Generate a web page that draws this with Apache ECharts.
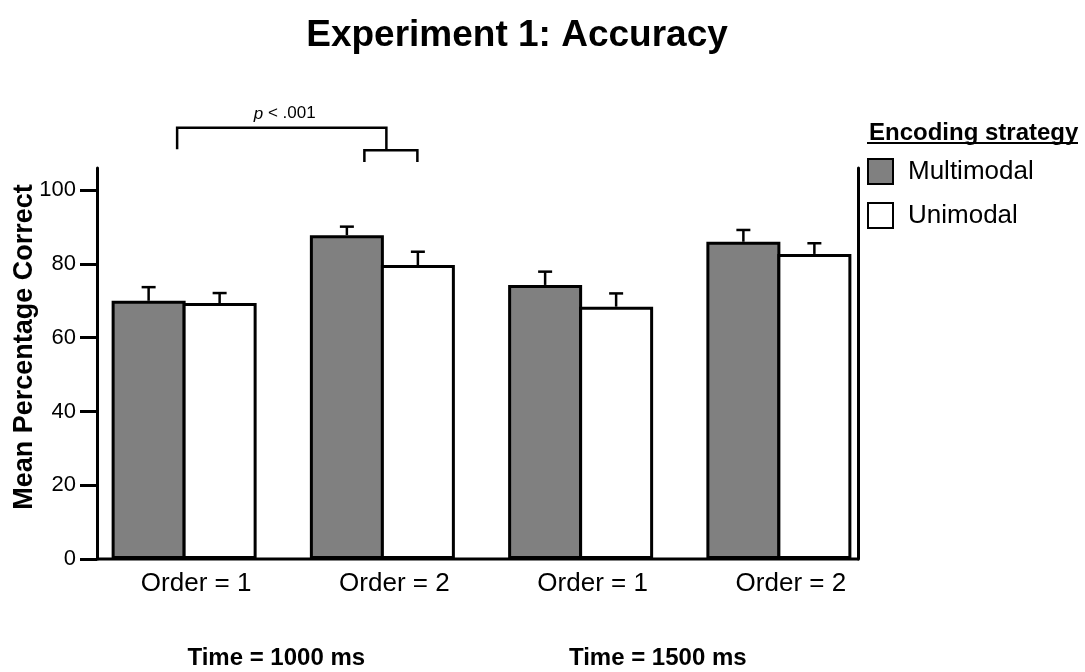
<!DOCTYPE html>
<html>
<head>
<meta charset="utf-8">
<title>Experiment 1: Accuracy</title>
<script src="https://cdn.jsdelivr.net/npm/echarts@6/dist/echarts.min.js"></script>
<style>html,body{margin:0;padding:0;background:#fff;}</style>
</head>
<body>
<div id="main" style="width:1085px;height:672px;"></div>
<script type="text/javascript">
// data
var categories = ['Order = 1', 'Order = 2', 'Order = 1', 'Order = 2'];
var timeLabels = ['Time = 1000 ms', 'Time = 1500 ms'];
var multimodal = [70.0, 87.8, 74.3, 86.0];
var multimodalTop = [73.7, 90.1, 77.9, 89.2];   // mean + error
var unimodal = [69.4, 79.7, 68.4, 82.7];
var unimodalTop = [72.1, 83.3, 72.0, 85.6];
var yTicks = [0, 20, 40, 60, 80, 100];

var FONT = 'Liberation Sans, Arial, Helvetica, sans-serif';
var BAR_W = 74;
var BAR_OVERLAP = 3;               // neighbouring bars share one border
var GRID_L = 85, GRID_R = 878;   // category band layout
var AXIS_L = 97, AXIS_R = 858;   // where the drawn axis lines sit

var chart = echarts.init(document.getElementById('main'));

function errorSeries(name, means, tops, shift) {
    return {
        name: name + ' error',
        type: 'custom',
        z: 5,
        encode: { x: 0, y: [1, 2] },
        data: means.map(function (m, i) { return [i, m, tops[i]]; }),
        renderItem: function (params, api) {
            var base = api.coord([api.value(0), api.value(1)]);
            var top = api.coord([api.value(0), api.value(2)]);
            var x = base[0] + shift;
            var st = { stroke: '#000', lineWidth: 2.5 };
            return {
                type: 'group',
                children: [
                    { type: 'line', shape: { x1: x, y1: base[1], x2: x, y2: top[1] }, style: st },
                    { type: 'line', shape: { x1: x - 7, y1: top[1], x2: x + 7, y2: top[1] }, style: st }
                ]
            };
        }
    };
}

var half = (BAR_W - BAR_OVERLAP) / 2;

var option = {
    animation: false,
    backgroundColor: '#fff',
    textStyle: { fontFamily: FONT, color: '#000' },
    title: [{
        text: 'Experiment 1: Accuracy',
        left: 512,
        textAlign: 'center',
        top: 12,
        textStyle: { fontFamily: FONT, fontSize: 37, fontWeight: 'bold', color: '#000' }
    }, {
        text: 'Encoding strategy',
        left: 864,
        top: 116,
        textStyle: { fontFamily: FONT, fontSize: 24, fontWeight: 'bold', color: '#000' }
    }],
    legend: {
        orient: 'vertical',
        left: 867,
        top: 158,
        padding: 0,
        itemWidth: 25,
        itemHeight: 25,
        itemGap: 17,
        icon: 'rect',
        data: ['Multimodal', 'Unimodal'],
        textStyle: { fontFamily: FONT, fontSize: 26, color: '#000', padding: [0, 0, 0, 10] }
    },
    grid: {
        left: GRID_L,
        right: 1085 - GRID_R,
        top: 168,
        bottom: 113,
        outerBoundsMode: 'none'
    },
    xAxis: {
        type: 'category',
        data: categories,
        axisLine: { show: false },
        axisTick: { show: false },
        axisLabel: {
            fontFamily: FONT, fontSize: 26, color: '#000',
            margin: 12, padding: [0, 0, 0, 24]
        }
    },
    yAxis: [{
        type: 'value',
        min: 0,
        max: 106,
        offset: GRID_L - AXIS_L,
        splitLine: { show: false },
        axisLine: { show: true, lineStyle: { color: '#000', width: 3 } },
        axisTick: { show: true, length: 17, customValues: yTicks, lineStyle: { color: '#000', width: 3 } },
        axisLabel: { fontFamily: FONT, fontSize: 22, color: '#000', margin: 21, customValues: yTicks }
    }, {
        type: 'value',
        position: 'right',
        min: 0,
        max: 106,
        offset: AXIS_R - GRID_R,
        splitLine: { show: false },
        axisLine: { show: true, lineStyle: { color: '#000', width: 3 } },
        axisTick: { show: false },
        axisLabel: { show: false }
    }],
    series: [{
        name: 'Multimodal',
        type: 'bar',
        barWidth: BAR_W,
        barGap: (-BAR_OVERLAP / BAR_W * 100) + '%',
        data: multimodal,
        itemStyle: { color: '#808080', borderColor: '#000', borderWidth: 3 }
    }, {
        name: 'Unimodal',
        type: 'bar',
        barWidth: BAR_W,
        barGap: (-BAR_OVERLAP / BAR_W * 100) + '%',
        data: unimodal,
        itemStyle: { color: '#fff', borderColor: '#000', borderWidth: 3 }
    },
        errorSeries('Multimodal', multimodal, multimodalTop, -half),
        errorSeries('Unimodal', unimodal, unimodalTop, half)
    ]
};
chart.setOption(option);

// annotations placed with the chart's own scales
function px(i, v) { return chart.convertToPixel({ xAxisIndex: 0, yAxisIndex: 0 }, [i, v]); }
var y0 = px(0, 0)[1];
var c0 = px(0, 0)[0], c1 = px(1, 0)[0], c2 = px(2, 0)[0], c3 = px(3, 0)[0];
var yTop = px(0, 116.9)[1], yLeg = px(0, 111.1)[1], ySmall = px(0, 110.8)[1], ySmallLeg = px(0, 107.6)[1];
var bx1 = c0 - 7, bx2 = c1 + 4, sL = c1 - 18, sR = c1 + 35;
var ln = { stroke: '#000', lineWidth: 2.5, fill: null };

chart.setOption({
    graphic: [
        { type: 'line', shape: { x1: AXIS_L - 1, y1: y0, x2: AXIS_R + 1, y2: y0 }, style: { stroke: '#000', lineWidth: 3 } },
        { type: 'polyline', shape: { points: [[bx1, yLeg], [bx1, yTop], [bx2, yTop], [bx2, ySmall]] }, style: ln },
        { type: 'polyline', shape: { points: [[sL, ySmallLeg], [sL, ySmall], [sR, ySmall], [sR, ySmallLeg]] }, style: ln },
        {
            type: 'text', x: (bx1 + bx2) / 2 + 3, y: yTop - 14,
            style: {
                text: '{i|p} < .001', align: 'center', verticalAlign: 'middle',
                font: '17px ' + FONT, fill: '#000',
                rich: { i: { fontStyle: 'italic', fontSize: 17, fontFamily: FONT } }
            }
        },
        {
            // y axis title
            type: 'text', x: 25, y: 347, rotation: Math.PI / 2,
            style: {
                text: 'Mean Percentage Correct', align: 'center', verticalAlign: 'middle',
                font: 'bold 27px ' + FONT, fill: '#000'
            }
        },
        {
            type: 'text', x: (c0 + c1) / 2 - 7, y: 658,
            style: { text: timeLabels[0], align: 'center', verticalAlign: 'middle', font: 'bold 24px ' + FONT, fill: '#000' }
        },
        {
            type: 'text', x: (c2 + c3) / 2 - 22, y: 658,
            style: { text: timeLabels[1], align: 'center', verticalAlign: 'middle', font: 'bold 24px ' + FONT, fill: '#000' }
        },
        { type: 'line', shape: { x1: 867, y1: 143, x2: 1078, y2: 143 }, style: { stroke: '#000', lineWidth: 2 } }
    ]
});
</script>
</body>
</html>
